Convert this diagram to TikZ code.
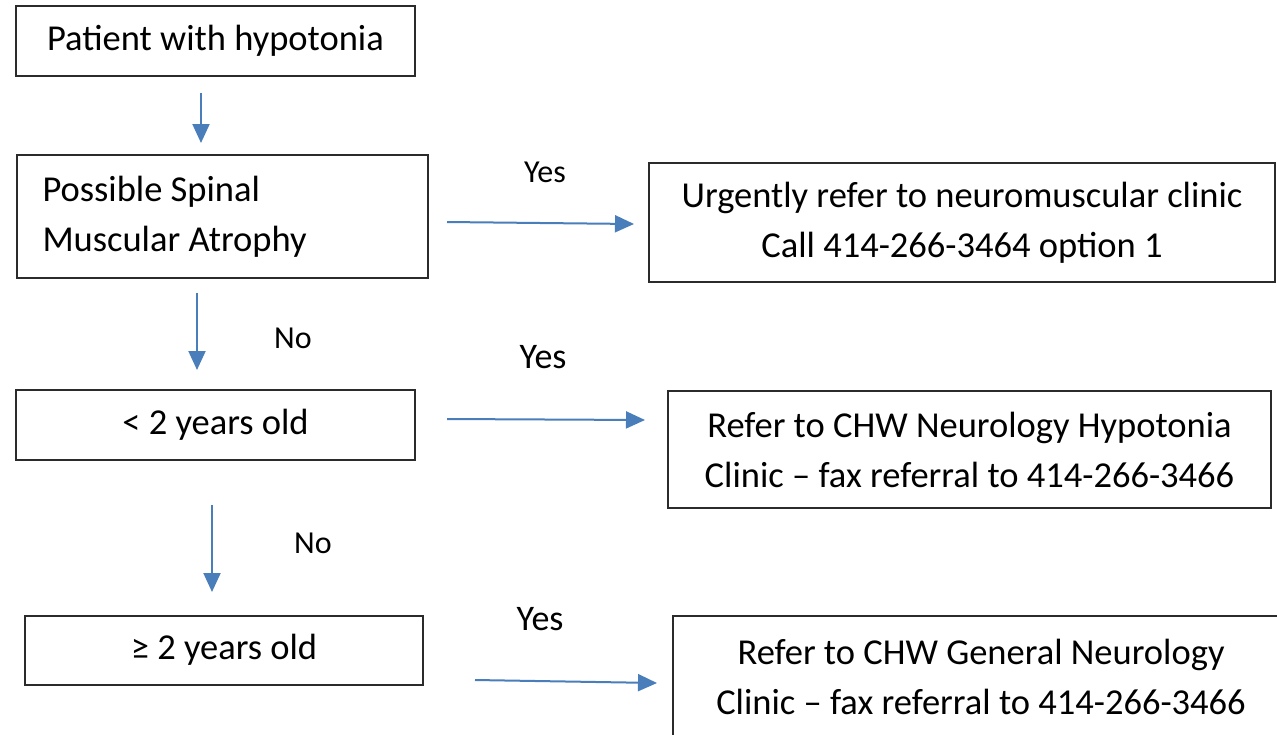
\documentclass[tikz,border=0pt]{standalone}
\usepackage{fontspec}
\setmainfont{Carlito}
\usetikzlibrary{arrows.meta}
\definecolor{arrblue}{HTML}{4A7EBB}
\definecolor{boxline}{HTML}{2B2B2B}
\tikzset{
  box/.style={draw=boxline, line width=2pt, inner sep=0pt, align=center, font=\fontsize{36.5}{50}\selectfont},
  arr/.style={draw=arrblue, line width=2pt, -{Triangle[length=19pt,width=17pt]}},
  lbl/.style={font=\fontsize{32}{36}\selectfont, inner sep=0pt},
}
\begin{document}
\begin{tikzpicture}[x=1pt,y=-1pt]
\useasboundingbox (0,0) rectangle (1277,734);
\fill[white] (0,0) rectangle (1277,734);
% left boxes
\node[box, minimum width=399pt, minimum height=70pt] (p) at (215.5,41) {Patient with hypotonia};
\node[box, minimum width=411pt, minimum height=123pt, text width=359pt, align=flush left, inner xsep=26pt] (sma) at (222,216.5) {Possible Spinal\\Muscular Atrophy};
\node[box, minimum width=399pt, minimum height=70pt] (lt) at (215.5,425) {< 2 years old};
\node[box, minimum width=398pt, minimum height=69pt] (ge) at (224,650) {≥ 2 years old};
% right boxes
\node[box, minimum width=626pt, minimum height=119pt] (r1) at (962,222.5) {Urgently refer to neuromuscular clinic\\Call 414-266-3464 option 1};
\node[box, minimum width=603pt, minimum height=117pt] (r2) at (969.5,449.5) {Refer to CHW Neurology Hypotonia\\Clinic – fax referral to 414-266-3466};
\node[box, minimum width=620pt, minimum height=140pt, anchor=north west] (r3) at (672,615) {};
\node[font=\fontsize{36.5}{50}\selectfont, align=center, inner sep=0pt] (r3t) at (981,677) {Refer to CHW General Neurology\\Clinic – fax referral to 414-266-3466};
% arrow end points
\coordinate (a1s) at (201,93);  \coordinate (a1e) at (201,143);
\coordinate (a2s) at (197,293); \coordinate (a2e) at (197,370);
\coordinate (a3s) at (212,505); \coordinate (a3e) at (212,592);
\coordinate (h1s) at (447,222); \coordinate (h1e) at (634,224);
\coordinate (h2s) at (447,419); \coordinate (h2e) at (645,420);
\coordinate (h3s) at (475,680); \coordinate (h3e) at (657,683);
\draw[arr] (a1s) -- (a1e);
\draw[arr] (a2s) -- (a2e);
\draw[arr] (a3s) -- (a3e);
\draw[arr] (h1s) -- (h1e);
\draw[arr] (h2s) -- (h2e);
\draw[arr] (h3s) -- (h3e);
% labels
\node[lbl] (y1) at (545,172) {Yes};
\node[lbl, font=\fontsize{36}{40}\selectfont] (y2) at (543,357) {Yes};
\node[lbl, font=\fontsize{36}{40}\selectfont] (y3) at (540,619) {Yes};
\node[lbl] (n1) at (293,338) {No};
\node[lbl] (n2) at (313,543) {No};
\end{tikzpicture}
\end{document}
